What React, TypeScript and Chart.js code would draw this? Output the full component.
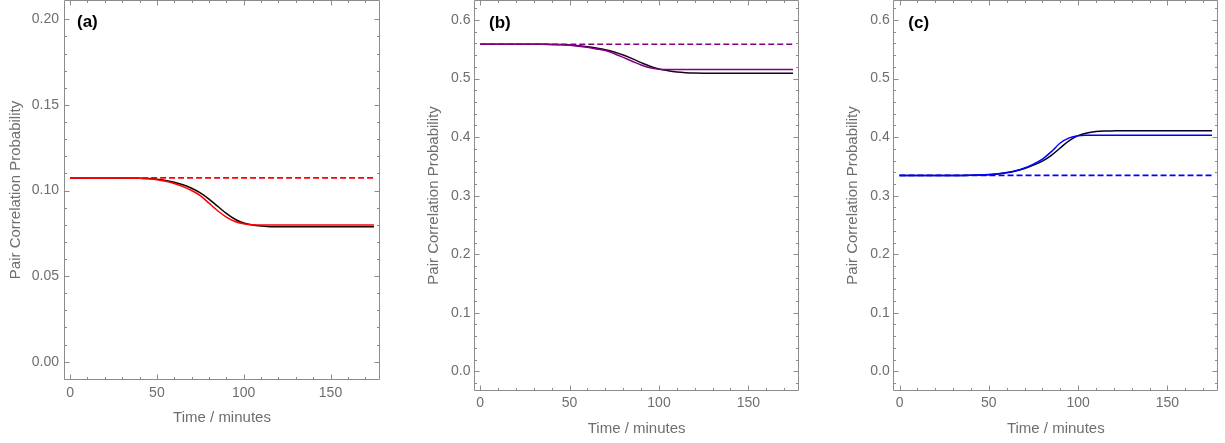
import React, { useEffect, useRef } from "react";
import { Chart, registerables } from "chart.js";

Chart.register(...registerables);

// ---------- data ----------
const TIMES = [0, 5, 10, 15, 20, 25, 30, 35, 40, 45, 50, 55, 60, 65, 70, 75, 80, 85, 90, 95, 100, 105, 110, 115, 120, 125, 130, 135, 140, 145, 150, 155, 160, 165, 170, 175];

// panel (a)
const A_COLORED = [0.1073, 0.1073, 0.1073, 0.1073, 0.1073, 0.1073, 0.1073, 0.1072, 0.1071, 0.1068, 0.1063, 0.1054, 0.1041, 0.1023, 0.1000, 0.0970, 0.0926, 0.0882, 0.0845, 0.0819, 0.0806, 0.0800, 0.0799, 0.0799, 0.0799, 0.0799, 0.0799, 0.0799, 0.0799, 0.0799, 0.0799, 0.0799, 0.0799, 0.0799, 0.0799, 0.0799];
const A_DARK = [0.1073, 0.1073, 0.1073, 0.1073, 0.1073, 0.1073, 0.1073, 0.1073, 0.1072, 0.1070, 0.1066, 0.1059, 0.1048, 0.1034, 0.1013, 0.0986, 0.0950, 0.0908, 0.0866, 0.0832, 0.0810, 0.0798, 0.0792, 0.0789, 0.0788, 0.0788, 0.0788, 0.0788, 0.0788, 0.0788, 0.0788, 0.0788, 0.0788, 0.0788, 0.0788, 0.0788];

// panel (b)
const B_COLORED = [0.5585, 0.5585, 0.5585, 0.5585, 0.5585, 0.5585, 0.5585, 0.5585, 0.5583, 0.5578, 0.5569, 0.5554, 0.5533, 0.5507, 0.5478, 0.5425, 0.5362, 0.5296, 0.5232, 0.5184, 0.5161, 0.5155, 0.5154, 0.5154, 0.5154, 0.5154, 0.5154, 0.5154, 0.5154, 0.5154, 0.5154, 0.5154, 0.5154, 0.5154, 0.5154, 0.5154];
const B_DARK = [0.5585, 0.5585, 0.5585, 0.5585, 0.5585, 0.5585, 0.5585, 0.5585, 0.5584, 0.5581, 0.5574, 0.5562, 0.5545, 0.5522, 0.5494, 0.5454, 0.5402, 0.5340, 0.5272, 0.5210, 0.5165, 0.5135, 0.5112, 0.5100, 0.5094, 0.5092, 0.5092, 0.5092, 0.5092, 0.5092, 0.5092, 0.5092, 0.5092, 0.5092, 0.5092, 0.5092];

// panel (c)
const C_COLORED = [0.3346, 0.3346, 0.3346, 0.3346, 0.3346, 0.3346, 0.3346, 0.3346, 0.3348, 0.3352, 0.3360, 0.3373, 0.3394, 0.3426, 0.3473, 0.3540, 0.3625, 0.3752, 0.3900, 0.3988, 0.4025, 0.4033, 0.4034, 0.4034, 0.4034, 0.4034, 0.4034, 0.4034, 0.4034, 0.4034, 0.4034, 0.4034, 0.4034, 0.4034, 0.4034, 0.4034];
const C_DARK = [0.3346, 0.3346, 0.3346, 0.3346, 0.3346, 0.3346, 0.3346, 0.3346, 0.3347, 0.3351, 0.3358, 0.3370, 0.3390, 0.3420, 0.3463, 0.3522, 0.3590, 0.3690, 0.3815, 0.3940, 0.4025, 0.4072, 0.4095, 0.4104, 0.4107, 0.4108, 0.4108, 0.4108, 0.4108, 0.4108, 0.4108, 0.4108, 0.4108, 0.4108, 0.4108, 0.4108];

// dashed reference levels (a, b, c)
const DASHED_LEVELS = [0.1074, 0.5585, 0.3346];

// ticks
const X_MAJOR = [0, 50, 100, 150];
const X_MINOR = [10, 20, 30, 40, 60, 70, 80, 90, 110, 120, 130, 140, 160, 170];
const A_Y_MAJOR = [0, 0.05, 0.1, 0.15, 0.2];
const A_Y_MINOR = [0.01, 0.02, 0.03, 0.04, 0.06, 0.07, 0.08, 0.09, 0.11, 0.12, 0.13, 0.14, 0.16, 0.17, 0.18, 0.19];
const BC_Y_MAJOR = [0, 0.1, 0.2, 0.3, 0.4, 0.5, 0.6];
const BC_Y_MINOR = [-0.02, 0.02, 0.04, 0.06, 0.08, 0.12, 0.14, 0.16, 0.18, 0.22, 0.24, 0.26, 0.28, 0.32, 0.34, 0.36, 0.38, 0.42, 0.44, 0.46, 0.48, 0.52, 0.54, 0.56, 0.58, 0.62];

const PANEL_LABELS = ["(a)", "(b)", "(c)"];
const X_TITLE = "Time / minutes";
const Y_TITLE = "Pair Correlation Probability";

// ---------- styling ----------
const FONT = "'Liberation Sans', Arial, Helvetica, sans-serif";
const FRAME_COLOR = "#8c8c8c";
const LABEL_COLOR = "#6e6e6e";

type PanelCfg = {
  left: number;
  width: number;
  colored: number[];
  dark: number[];
  dashed: number;
  color: string;
  darkColor: string;
  yMin: number;
  yMax: number;
  yMajor: number[];
  yMinor: number[];
  yDigits: number;
  yAxisWidth: number;
  xAxisHeight: number;
  padRight: number;
  yTitlePad: number;
  xTitlePad: number;
  yTickPad: number;
  xTickPad: number;
  label: string;
  labelDx: number;
  labelY: number;
};

const PANELS: PanelCfg[] = [
  {
    left: 0, width: 400, colored: A_COLORED, dark: A_DARK, dashed: DASHED_LEVELS[0],
    color: "#ff0000", darkColor: "#140000",
    yMin: -0.0107, yMax: 0.2113, yMajor: A_Y_MAJOR, yMinor: A_Y_MINOR, yDigits: 2,
    yAxisWidth: 64, xAxisHeight: 63, padRight: 20, yTitlePad: 7, xTitlePad: 16,
    yTickPad: 5, xTickPad: 5, label: PANEL_LABELS[0], labelDx: 13, labelY: 27,
  },
  {
    left: 400, width: 415, colored: B_COLORED, dark: B_DARK, dashed: DASHED_LEVELS[1],
    color: "#800080", darkColor: "#1c001c",
    yMin: -0.0336, yMax: 0.6342, yMajor: BC_Y_MAJOR, yMinor: BC_Y_MINOR, yDigits: 1,
    yAxisWidth: 74, xAxisHeight: 52, padRight: 15.7, yTitlePad: 25, xTitlePad: 5.3,
    yTickPad: 3.5, xTickPad: 3.9, label: PANEL_LABELS[1], labelDx: 15, labelY: 28,
  },
  {
    left: 815, width: 410, colored: C_COLORED, dark: C_DARK, dashed: DASHED_LEVELS[2],
    color: "#0000ff", darkColor: "#00002a",
    yMin: -0.0336, yMax: 0.6342, yMajor: BC_Y_MAJOR, yMinor: BC_Y_MINOR, yDigits: 1,
    yAxisWidth: 78.3, xAxisHeight: 52, padRight: 6.7, yTitlePad: 29, xTitlePad: 5.3,
    yTickPad: 3.5, xTickPad: 3.9, label: PANEL_LABELS[2], labelDx: 15, labelY: 28,
  },
];

const CANVAS_H = 443;

const framePlugin = {
  id: "mmaFrame",
  afterDraw(chart: any, _args: any, opts: any) {
    const { ctx, chartArea } = chart;
    const { left, right, top, bottom } = chartArea;
    const xs = chart.scales.x;
    const ys = chart.scales.y;
    const L = Math.round(left) + 0.5;
    const R = Math.round(right) - 0.5;
    const T = Math.round(top) + 0.5;
    const B = Math.round(bottom) - 0.5;
    ctx.save();
    ctx.strokeStyle = FRAME_COLOR;
    ctx.lineWidth = 1;
    ctx.beginPath();
    ctx.moveTo(L, T);
    ctx.lineTo(R, T);
    ctx.lineTo(R, B);
    ctx.lineTo(L, B);
    ctx.closePath();
    ctx.stroke();
    const major = 5;
    const minor = 2.5;
    ctx.beginPath();
    const xTick = (v: number, len: number) => {
      const px = Math.round(xs.getPixelForValue(v)) + 0.5;
      ctx.moveTo(px, B);
      ctx.lineTo(px, B - len);
      ctx.moveTo(px, T);
      ctx.lineTo(px, T + len);
    };
    const yTick = (v: number, len: number) => {
      const py = Math.round(ys.getPixelForValue(v)) + 0.5;
      ctx.moveTo(L, py);
      ctx.lineTo(L + len, py);
      ctx.moveTo(R, py);
      ctx.lineTo(R - len, py);
    };
    (opts.xMajor as number[]).forEach((v) => xTick(v, major));
    (opts.xMinor as number[]).forEach((v) => xTick(v, minor));
    (opts.yMajor as number[]).forEach((v) => yTick(v, major));
    (opts.yMinor as number[]).forEach((v) => yTick(v, minor));
    ctx.stroke();

    ctx.fillStyle = "#000000";
    ctx.font = `bold 17px ${FONT}`;
    ctx.textAlign = "left";
    ctx.textBaseline = "alphabetic";
    ctx.fillText(opts.label, left + opts.labelDx, top + opts.labelY);
    ctx.restore();
  },
};

function zeroPadding(scale: any) {
  scale.paddingTop = 0;
  scale.paddingBottom = 0;
  scale.paddingLeft = 0;
  scale.paddingRight = 0;
}

function Panel({ cfg }: { cfg: PanelCfg }) {
  const ref = useRef<HTMLCanvasElement | null>(null);
  useEffect(() => {
    if (!ref.current) return;
    const toPts = (arr: number[]) => TIMES.map((t, i) => ({ x: t, y: arr[i] }));
    const dashedPts = [
      { x: TIMES[0], y: cfg.dashed },
      { x: TIMES[TIMES.length - 1], y: cfg.dashed },
    ];
    // Chart.js paints dataset 0 last (on top)
    const chart = new Chart(ref.current, {
      type: "line",
      data: {
        datasets: [
          {
            data: dashedPts,
            borderColor: cfg.color,
            borderWidth: 1.6,
            borderDash: [6, 3],
            pointRadius: 0,
            fill: false,
          },
          {
            data: toPts(cfg.colored),
            borderColor: cfg.color,
            borderWidth: 1.5,
            pointRadius: 0,
            cubicInterpolationMode: "monotone",
            fill: false,
          },
          {
            data: toPts(cfg.dark),
            borderColor: cfg.darkColor,
            borderWidth: 1.5,
            pointRadius: 0,
            cubicInterpolationMode: "monotone",
            fill: false,
          },
        ],
      },
      options: {
        animation: false,
        responsive: false,
        maintainAspectRatio: false,
        devicePixelRatio: 1,
        events: [],
        layout: { padding: { left: 0, top: 0, right: cfg.padRight, bottom: 0 } },
        plugins: {
          legend: { display: false },
          tooltip: { enabled: false },
          mmaFrame: {
            xMajor: X_MAJOR,
            xMinor: X_MINOR,
            yMajor: cfg.yMajor,
            yMinor: cfg.yMinor,
            label: cfg.label,
            labelDx: cfg.labelDx,
            labelY: cfg.labelY,
          },
        } as any,
        scales: {
          x: {
            type: "linear",
            min: -3.5,
            max: 178.5,
            border: { display: false },
            grid: { display: false, drawTicks: false },
            afterBuildTicks: (scale: any) => {
              scale.ticks = X_MAJOR.map((v) => ({ value: v }));
            },
            afterFit: (scale: any) => {
              scale.height = cfg.xAxisHeight;
              zeroPadding(scale);
            },
            ticks: {
              autoSkip: false,
              maxRotation: 0,
              padding: cfg.xTickPad,
              color: LABEL_COLOR,
              font: { family: FONT, size: 14 },
              callback: (v: any) => String(v),
            },
            title: {
              display: true,
              text: X_TITLE,
              color: LABEL_COLOR,
              font: { family: FONT, size: 15 },
              padding: { top: 0, bottom: cfg.xTitlePad },
            },
          },
          y: {
            type: "linear",
            min: cfg.yMin,
            max: cfg.yMax,
            border: { display: false },
            grid: { display: false, drawTicks: false },
            afterBuildTicks: (scale: any) => {
              scale.ticks = cfg.yMajor.map((v) => ({ value: v }));
            },
            afterFit: (scale: any) => {
              scale.width = cfg.yAxisWidth;
              zeroPadding(scale);
            },
            ticks: {
              autoSkip: false,
              padding: cfg.yTickPad,
              color: LABEL_COLOR,
              font: { family: FONT, size: 14 },
              callback: (v: any) => Number(v).toFixed(cfg.yDigits),
            },
            title: {
              display: true,
              text: Y_TITLE,
              color: LABEL_COLOR,
              font: { family: FONT, size: 15 },
              padding: { top: cfg.yTitlePad, bottom: 0 },
            },
          },
        },
      },
      plugins: [framePlugin],
    } as any);
    return () => chart.destroy();
  }, [cfg]);
  return (
    <canvas
      ref={ref}
      width={cfg.width}
      height={CANVAS_H}
      style={{ position: "absolute", left: cfg.left, top: 0, width: cfg.width, height: CANVAS_H }}
    />
  );
}

export default function App() {
  return (
    <div style={{ position: "absolute", left: 0, top: 0, width: 1225, height: CANVAS_H, background: "#ffffff" }}>
      {PANELS.map((p) => (
        <Panel key={p.label} cfg={p} />
      ))}
    </div>
  );
}
